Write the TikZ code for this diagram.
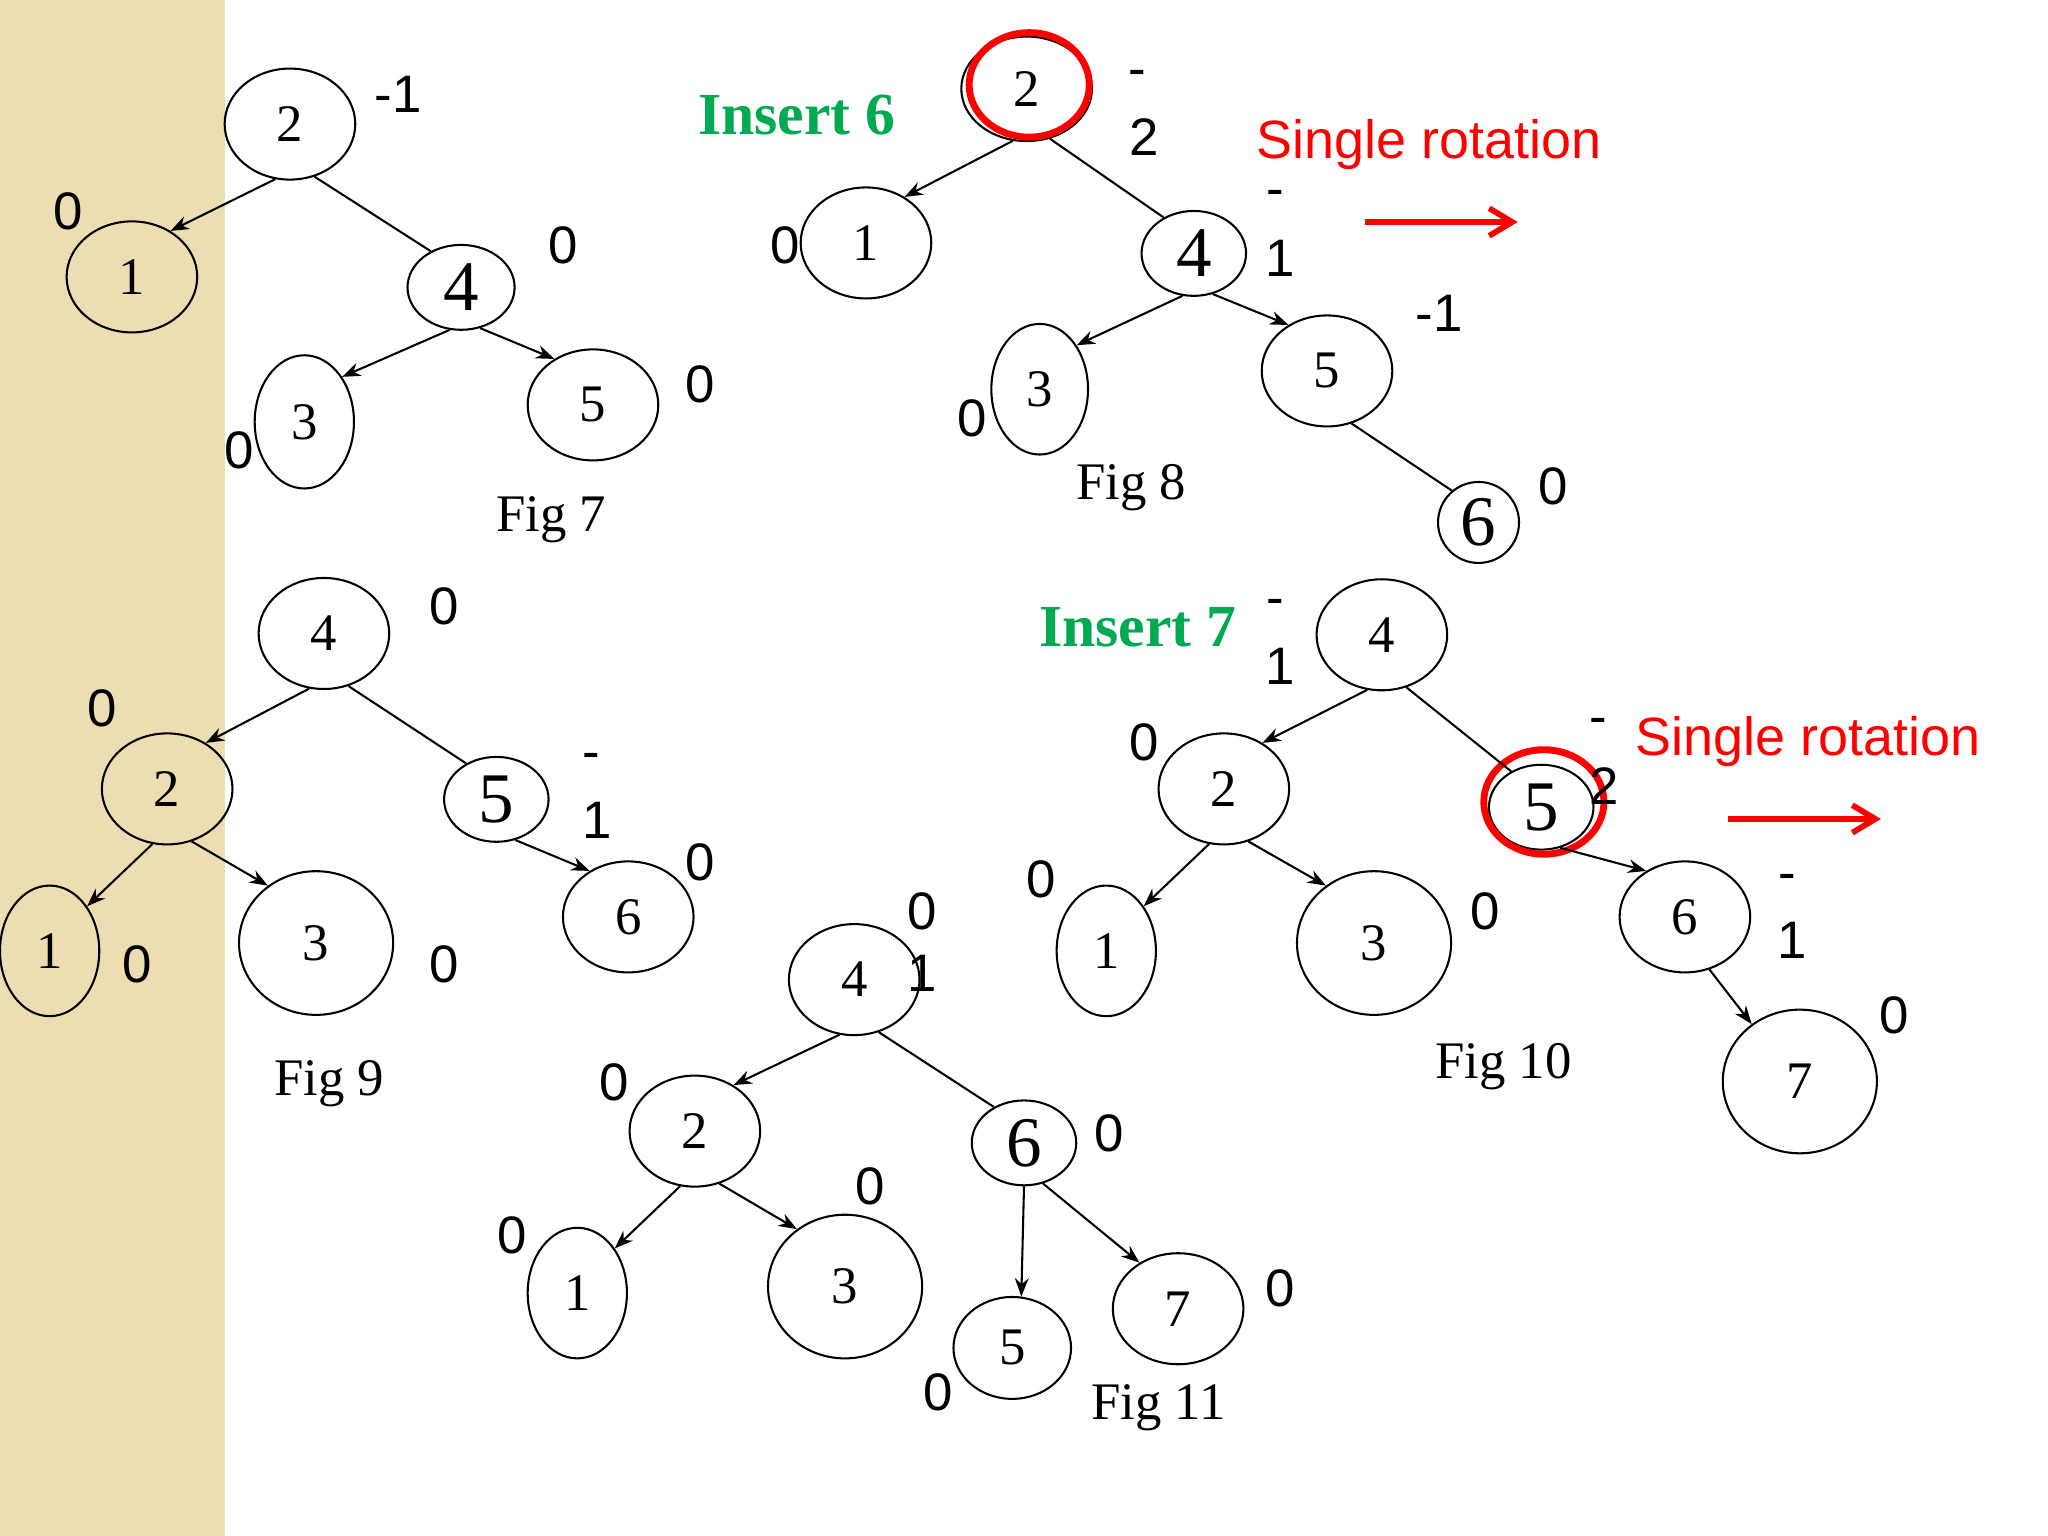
\documentclass[tikz,border=0pt]{standalone}
\usepackage{fontspec}
\setmainfont{Liberation Serif}
\newfontfamily\lsans{Liberation Sans}
\usetikzlibrary{shapes.geometric,arrows.meta}
\definecolor{band}{RGB}{236,222,178}
\definecolor{grn}{RGB}{0,170,80}
\tikzset{
 nd/.style={draw,ellipse,inner sep=0pt,line width=0.9pt,font=\fontsize{23}{23}\selectfont},
 big/.style={font=\fontsize{31}{31}\selectfont},
 bl/.style={font=\lsans\fontsize{23}{23}\selectfont},
 fig/.style={font=\fontsize{23}{23}\selectfont},
 ins/.style={font=\bfseries\fontsize{26}{26}\selectfont,text=grn},
 rot/.style={font=\lsans\fontsize{23.5}{23.5}\selectfont,text=red},
 ar/.style={-{Stealth[length=8pt,width=6pt]},line width=0.9pt},
 ln/.style={line width=0.9pt},
 rarr/.style={-{Straight Barb[length=10pt,width=12pt]},red,line width=2.5pt},
 rc/.style={draw=red,ellipse,line width=3pt,inner sep=0pt}
}
\newcommand{\E}[6]{\node[nd,minimum width=#4*0.02cm,minimum height=#5*0.02cm] (#1) at (#2,#3) {#6};}
\newcommand{\EB}[6]{\node[nd,big,minimum width=#4*0.02cm,minimum height=#5*0.02cm] (#1) at (#2,#3) {#6};}
\newcommand{\EL}[3][ar]{\draw[#1] (#2.255) -- (#3.50);}
\newcommand{\ER}[3][ar]{\draw[#1] (#2.295) -- (#3.130);}
\begin{document}
\begin{tikzpicture}[x=0.02cm,y=-0.02cm]
\useasboundingbox (0,0) rectangle (1568,1176);
\fill[band] (0,0) rectangle (172,1176);
% Fig 7
\E{a2}{222}{95}{100}{85}{2}
\E{a1}{101}{212}{100}{85}{1}
\EB{a4}{353}{220}{82}{65}{4}
\E{a3}{233}{323}{76}{102}{3}
\E{a5}{454}{310}{100}{85}{5}
\EL{a2}{a1} \ER[ln]{a2}{a4} \EL{a4}{a3} \ER{a4}{a5}
\node[bl] (t1) at (305,72) {-1}; \node[bl] (t2) at (52,162) {0}; \node[bl] (t3) at (431,188) {0};
\node[bl] (t4) at (536,294) {0}; \node[bl] (t5) at (183,345) {0};
\node[fig] (f7) at (422,398) {Fig 7};
% Fig 8
\E{b2}{786}{68}{100}{80}{2}
\node[rc,minimum width=92*0.02cm,minimum height=80*0.02cm] (rc1) at (788,65) {};
\E{b1}{663}{186}{100}{85}{1}
\EB{b4}{914}{194}{80}{65}{4}
\E{b3}{796}{298}{74}{100}{3}
\E{b5}{1016}{284}{100}{85}{5}
\EB{b6}{1132}{400}{62}{62}{6}
\EL{b2}{b1} \ER[ln]{b2}{b4} \EL{b4}{b3} \ER{b4}{b5} \ER[ln]{b5}{b6}
\node[bl] (u1) at (871,60) {-}; \node[bl] (u2) at (876,105) {2};
\node[bl] (u3) at (976,152) {-}; \node[bl] (u4) at (980,198) {1};
\node[bl] (u5) at (1102,240) {-1}; \node[bl] (u6) at (601,188) {0};
\node[bl] (u7) at (744,320) {0}; \node[bl] (u8) at (1189,372) {0};
\node[ins] (i6) at (610,88) {Insert 6};
\node[rot] (r1) at (1094,111) {Single rotation};
\coordinate (r1a) at (1045,170); \coordinate (r1b) at (1162,170);
\draw[rarr] (r1a) -- (r1b);
\node[fig] (f8) at (866,373) {Fig 8};
% Fig 9
\E{c4}{248}{485}{100}{85}{4}
\E{c2}{128}{604}{100}{85}{2}
\EB{c5}{380}{612}{80}{65}{5}
\E{c1}{38}{728}{76}{100}{1}
\E{c3}{242}{722}{118}{110}{3}
\E{c6}{481}{702}{100}{85}{6}
\EL{c4}{c2} \ER[ln]{c4}{c5} \EL{c2}{c1} \ER{c2}{c3} \ER{c5}{c6}
\node[bl] (v1) at (340,464) {0}; \node[bl] (v2) at (78,542) {0};
\node[bl] (v3) at (453,583) {-}; \node[bl] (v4) at (457,628) {1};
\node[bl] (v5) at (536,660) {0}; \node[bl] (v6) at (105,738) {0}; \node[bl] (v7) at (340,738) {0};
\node[fig] (f9) at (252,830) {Fig 9};
% Fig 10
\E{d4}{1058}{486}{100}{85}{4}
\E{d2}{937}{604}{100}{85}{2}
\EB{d5}{1180}{618}{80}{65}{5}
\node[rc,minimum width=92*0.02cm,minimum height=80*0.02cm] (rc2) at (1182,614) {};
\E{d1}{847}{728}{76}{100}{1}
\E{d3}{1052}{722}{118}{110}{3}
\E{d6}{1290}{702}{100}{85}{6}
\E{d7}{1378}{828}{118}{110}{7}
\EL{d4}{d2} \ER[ln]{d4}{d5} \EL{d2}{d1} \ER{d2}{d3} \ER{d5}{d6} \ER{d6}{d7}
\node[bl] (w1) at (976,465) {-}; \node[bl] (w2) at (980,510) {1};
\node[bl] (w3) at (876,568) {0};
\node[bl] (w4) at (1224,556) {-}; \node[bl] (w5) at (1228,602) {2};
\node[bl] (w6) at (797,673) {0}; \node[bl] (w7) at (1137,698) {0};
\node[bl] (w8) at (1368,676) {-}; \node[bl] (w9) at (1372,720) {1};
\node[bl] (w10) at (1450,777) {0};
\node[ins] (i7) at (871,480) {Insert 7};
\node[rot,anchor=west] (r2) at (1246,568) {Single rotation};
\coordinate (r2a) at (1323,627); \coordinate (r2b) at (1440,627);
\draw[rarr] (r2a) -- (r2b);
\node[fig] (f10) at (1151,817) {Fig 10};
% Fig 11
\E{e4}{654}{750}{100}{85}{4}
\E{e2}{532}{866}{100}{85}{2}
\EB{e6}{784}{875}{80}{65}{6}
\E{e1}{442}{990}{76}{100}{1}
\E{e3}{647}{985}{118}{110}{3}
\E{e5}{775}{1032}{90}{78}{5}
\E{e7}{902}{1002}{100}{85}{7}
\EL{e4}{e2} \ER[ln]{e4}{e6} \EL{e2}{e1} \ER{e2}{e3} \draw[ar] (e6.270) -- (e5.80); \ER{e6}{e7}
\node[bl] (x1) at (706,698) {0}; \node[bl] (x2) at (706,745) {1};
\node[bl] (x3) at (470,829) {0}; \node[bl] (x4) at (849,868) {0};
\node[bl] (x5) at (392,946) {0}; \node[bl] (x6) at (666,908) {0};
\node[bl] (x7) at (718,1066) {0}; \node[bl] (x8) at (980,986) {0};
\node[fig] (f11) at (887,1078) {Fig 11};
\end{tikzpicture}
\end{document}
